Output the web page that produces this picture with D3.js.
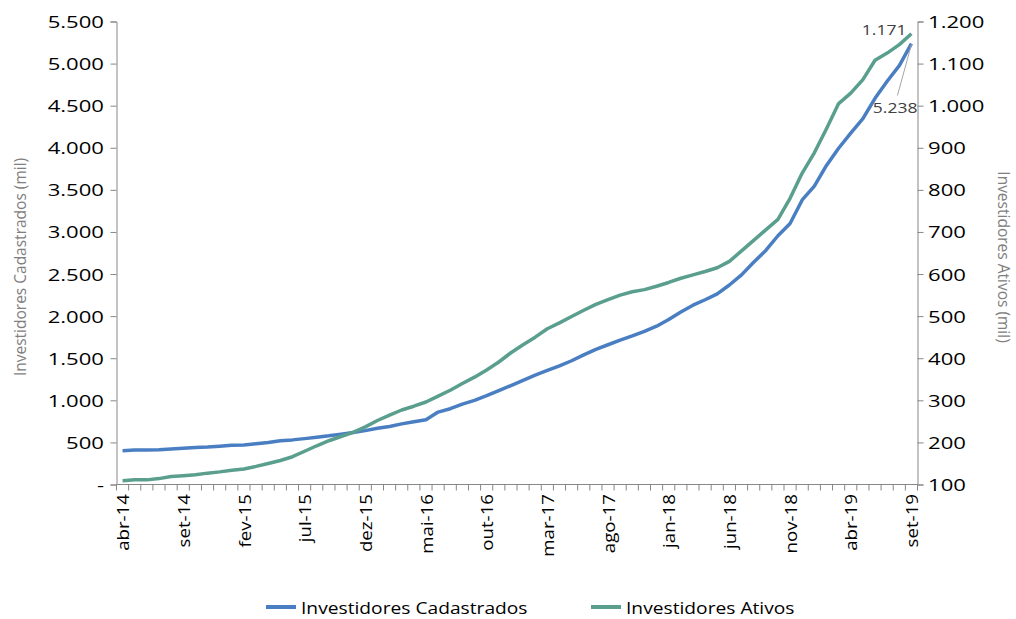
<!DOCTYPE html>
<html>
<head>
<meta charset="utf-8">
<script src="https://cdn.jsdelivr.net/npm/d3@7"></script>
<style>
body{margin:0;background:#fff}
text{font-family:"Open Sans",sans-serif}
</style>
</head>
<body>
<div id="chart"></div>
<script>
// meses abr-14 .. set-19
var meses=["jan","fev","mar","abr","mai","jun","jul","ago","set","out","nov","dez"]
var categorias=[]
for(var k=0;k<66;k++){var m=3+k;categorias.push(meses[m%12]+"-"+(14+Math.floor(m/12)))}

var cadastrados=[400,410,410,412,422,432,440,445,455,465,
	470,485,500,520,530,545,562,578,598,618,
	640,668,690,720,745,770,860,900,955,1000,
	1055,1115,1175,1237,1300,1355,1410,1470,1540,1605,
	1660,1715,1765,1820,1880,1960,2050,2130,2195,2265,
	2370,2490,2640,2780,2955,3100,3380,3545,3790,3994,
	4175,4345,4588,4790,4975,5238]
var ativos=[109,111,111,114,119,121,123,127,130,134,
	137,143,150,157,166,179,192,204,214,224,
	237,252,265,277,286,296,310,324,340,355,
	372,391,413,432,450,470,484,499,514,528,
	539,550,558,563,571,580,590,598,606,615,
	630,655,680,705,730,780,840,888,945,1005,
	1030,1062,1108,1125,1145,1171]
var ticksEsq=[0,500,1000,1500,2000,2500,3000,3500,4000,4500,5000,5500]
var ticksDir=[100,200,300,400,500,600,700,800,900,1000,1100,1200]

var W=1016,H=619
var pLeft=116.5,pRight=917.5,pTop=21.5,pBottom=484.5
var corAzul="#4a7ec2",corVerde="#5a9f8e",corEixo="#878787"

var fmt=function(v){return v==0?"-":d3.format(",")(v).replace(/,/g,".")}

var svg=d3.select("#chart").append("svg").attr("width",W).attr("height",H)

// texto "esticado" horizontalmente como no original
function rotulo(g,px,py,txt,size,sx,anchor,rot,cor){
	return g.append("text")
		.attr("transform","translate("+px+","+py+") rotate("+(rot||0)+") scale("+sx+",1)")
		.attr("text-anchor",anchor).attr("dominant-baseline","central")
		.attr("font-size",size+"px").attr("fill",cor||"#000").text(txt)
}

var x=d3.scaleBand().domain(d3.range(66)).range([pLeft,pRight]).padding(0)
var yL=d3.scaleLinear().domain([0,5500]).range([pBottom,pTop])
var yR=d3.scaleLinear().domain([100,1200]).range([pBottom,pTop])
var cx=function(i){return x(i)+x.bandwidth()/2}

// eixo esquerdo
var gL=svg.append("g").attr("transform","translate("+pLeft+",0)")
	.call(d3.axisLeft(yL).tickValues(ticksEsq).tickFormat("").tickSize(6))
ticksEsq.forEach(function(t){rotulo(svg,104,yL(t),fmt(t),17,1.3,"end")})

// eixo direito
var gR=svg.append("g").attr("transform","translate("+pRight+",0)")
	.call(d3.axisRight(yR).tickValues(ticksDir).tickFormat("").tickSize(6))
ticksDir.forEach(function(t){rotulo(svg,928,yR(t),fmt(t),17,1.3,"start")})

// eixo x com marcas entre categorias
var gX=svg.append("g").attr("transform","translate(0,"+pBottom+")")
gX.append("line").attr("x1",pLeft).attr("x2",pRight).attr("stroke",corEixo)
gX.selectAll("line.tk").data(d3.range(67)).enter().append("line").attr("class","tk")
	.attr("x1",function(d){return pLeft+d*x.bandwidth()}).attr("x2",function(d){return pLeft+d*x.bandwidth()})
	.attr("y1",0).attr("y2",6).attr("stroke",corEixo)
d3.range(0,66,5).forEach(function(d){rotulo(svg,cx(d),494,categorias[d],17,1.1,"end",-90)})

svg.selectAll(".domain,.tick line").attr("stroke",corEixo)

// linhas
var linhaL=d3.line().x(function(d,i){return cx(i)}).y(function(d){return yL(d)})
var linhaR=d3.line().x(function(d,i){return cx(i)}).y(function(d){return yR(d)})
svg.append("path").datum(cadastrados).attr("d",linhaL).attr("fill","none")
	.attr("stroke",corAzul).attr("stroke-width",3.5).attr("stroke-linejoin","round")
svg.append("path").datum(ativos).attr("d",linhaR).attr("fill","none")
	.attr("stroke",corVerde).attr("stroke-width",3.5).attr("stroke-linejoin","round")

// rótulos finais
var n=65
rotulo(svg,cx(n)-5,yR(ativos[n])-4,fmt(ativos[n]),14,1.25,"end",0,"#404040")
svg.append("line").attr("x1",cx(n)).attr("y1",yL(cadastrados[n])+1).attr("x2",cx(n)-14).attr("y2",yL(cadastrados[n])+52)
	.attr("stroke","#a6a6a6").attr("stroke-width",1)
rotulo(svg,cx(n)+6,yL(cadastrados[n])+64,fmt(cadastrados[n]),14,1.25,"end",0,"#404040")

// títulos dos eixos
rotulo(svg,20,267,"Investidores Cadastrados (mil)",15.5,1.0,"middle",-90,"#808080")
rotulo(svg,1004,257,"Investidores Ativos (mil)",15.5,1.0,"middle",90,"#808080")

// legenda
var legenda=[{nome:"Investidores Cadastrados",cor:corAzul,x:266},{nome:"Investidores Ativos",cor:corVerde,x:591}]
legenda.forEach(function(d){
	svg.append("line").attr("x1",d.x).attr("x2",d.x+30).attr("y1",607).attr("y2",607)
		.attr("stroke",d.cor).attr("stroke-width",4)
	rotulo(svg,d.x+35,607,d.nome,17,1.13,"start")
})
</script>
</body>
</html>
